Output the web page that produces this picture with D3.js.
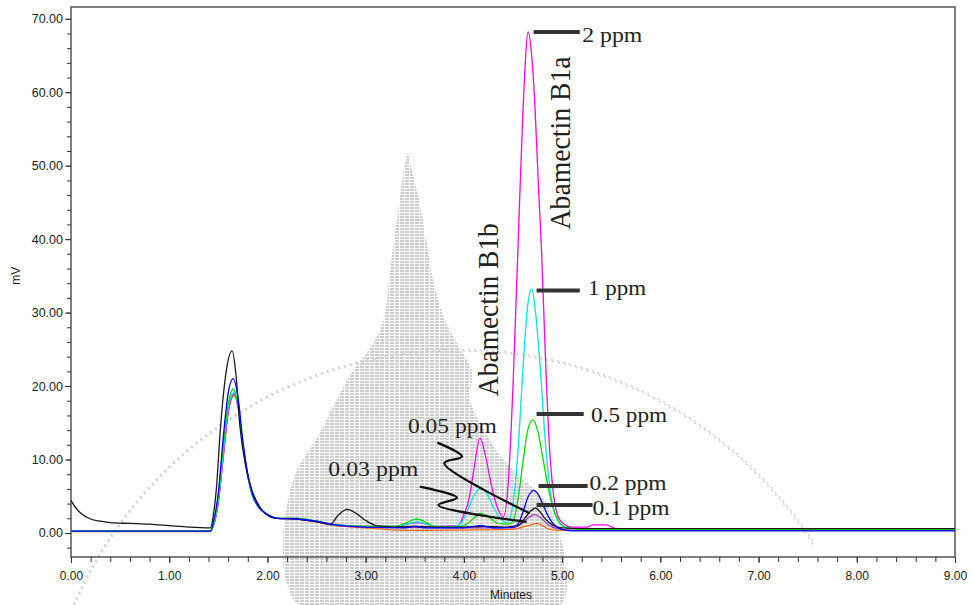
<!DOCTYPE html>
<html>
<head>
<meta charset="utf-8">
<script src="https://cdn.jsdelivr.net/npm/d3@7"></script>
<style>
  body { margin: 0; background: #fff; }
  svg { display: block; }
</style>
</head>
<body>
<div id="chart"></div>
<script>
// retention time (min) / detector response (mV)
const traceBlack = [[0,4.4],[0.05,3.4],[0.1,2.7],[0.2,1.9],[0.3,1.6],[0.4,1.4],[0.6,1.3],[0.8,1.2],[1.0,1.0],[1.2,0.8],[1.42,0.7],[1.45,2.5],[1.48,6],[1.52,14],[1.58,22],[1.64,24.8],[1.68,21.5],[1.72,14.5],[1.78,9],[1.84,5.9],[1.92,3.6],[2.03,2.2],[2.1,2.0],[2.3,1.9],[2.5,1.5],[2.64,1.2],[2.72,2.4],[2.81,3.2],[2.9,2.7],[3.0,1.7],[3.11,1.0],[3.3,0.8],[3.5,0.9],[3.7,0.8],[4.0,0.8],[4.2,0.9],[4.4,0.8],[4.55,1.0],[4.62,2.0],[4.68,3.0],[4.73,3.4],[4.78,2.8],[4.83,1.9],[4.9,1.1],[5.0,0.7],[5.2,0.6],[9,0.6]]
const traceBlue = [[0,0.25],[1.42,0.25],[1.45,1.5],[1.5,5.5],[1.55,13],[1.6,19],[1.65,21],[1.7,18.5],[1.75,12.5],[1.8,8],[1.85,5.2],[1.9,3.8],[2.0,2.5],[2.1,2.0],[2.3,1.9],[2.5,1.6],[2.7,1.1],[3.0,0.8],[3.4,0.7],[3.5,0.9],[3.6,0.7],[4.0,0.7],[4.17,1.0],[4.3,0.7],[4.5,0.8],[4.55,1.2],[4.6,2.8],[4.65,4.8],[4.71,5.8],[4.75,5.4],[4.8,4.0],[4.85,2.5],[4.9,1.4],[4.95,0.8],[5.0,0.5],[5.1,0.3],[9,0.3]]
const traceGreen = [[0,0.25],[1.42,0.25],[1.45,1.3],[1.5,5],[1.55,12],[1.6,17.5],[1.65,19.6],[1.7,17.5],[1.75,12],[1.8,7.8],[1.85,5.1],[1.9,3.8],[2.0,2.5],[2.1,2.0],[2.3,2.0],[2.5,1.6],[2.7,1.1],[3.0,0.9],[3.3,0.9],[3.4,1.3],[3.52,1.9],[3.62,1.4],[3.7,0.9],[3.9,0.8],[4.0,1.0],[4.1,2.0],[4.17,2.7],[4.25,2.2],[4.35,1.3],[4.45,1.2],[4.5,1.6],[4.55,4.5],[4.6,9.5],[4.65,14],[4.7,15.4],[4.75,14],[4.8,10.5],[4.85,6.8],[4.9,3.8],[4.95,2.0],[5.0,1.0],[5.05,0.7],[5.2,0.5],[9,0.5]]
const traceCyan = [[0,0.25],[1.42,0.25],[1.45,1.0],[1.5,4.5],[1.55,11],[1.6,17],[1.66,19.1],[1.7,17.5],[1.75,12],[1.8,7.8],[1.85,5],[1.9,3.7],[2.0,2.5],[2.1,2.0],[2.3,2.0],[2.5,1.6],[2.7,1.1],[3.0,0.9],[3.3,0.9],[3.42,1.2],[3.52,1.5],[3.62,1.2],[3.7,0.9],[3.9,0.9],[3.98,1.5],[4.05,3.5],[4.12,5.5],[4.18,6.1],[4.24,5.2],[4.3,3.5],[4.37,2.0],[4.44,1.4],[4.5,4],[4.55,11],[4.6,22],[4.65,31],[4.69,33.2],[4.73,30],[4.78,22],[4.82,14],[4.86,8],[4.9,4],[4.95,1.8],[5.0,1.0],[5.1,0.6],[5.3,0.5],[9,0.5]]
const traceMagenta = [[0,0.25],[1.42,0.25],[1.45,1.0],[1.5,4.3],[1.55,10.5],[1.6,16.5],[1.66,19.0],[1.7,17.5],[1.75,12],[1.8,7.8],[1.85,5],[1.9,3.7],[2.0,2.5],[2.1,2.0],[2.3,2.0],[2.5,1.6],[2.7,1.1],[3.0,0.9],[3.3,0.9],[3.42,1.2],[3.52,1.4],[3.62,1.2],[3.7,0.9],[3.94,1.0],[4.0,2.5],[4.05,4.5],[4.1,8.5],[4.165,12.9],[4.22,10.5],[4.28,6.5],[4.34,3.5],[4.4,2.2],[4.45,6.5],[4.5,20],[4.55,38.6],[4.6,57],[4.655,68.2],[4.69,65],[4.72,59],[4.76,47],[4.79,38.6],[4.83,24],[4.87,12],[4.91,5.5],[4.96,2.2],[5.02,1.2],[5.1,0.8],[5.25,0.8],[5.32,1.1],[5.45,1.1],[5.55,0.6],[9,0.6]]
const tracePurple = [[0,0.25],[1.42,0.25],[1.45,1.0],[1.5,4.3],[1.55,10.5],[1.6,16.5],[1.66,18.8],[1.7,17.3],[1.75,12],[1.8,7.8],[1.85,5],[1.9,3.7],[2.0,2.5],[2.1,2.0],[2.3,1.9],[2.5,1.5],[2.7,1.0],[3.0,0.8],[4.0,0.7],[4.5,0.7],[4.58,1.2],[4.65,2.0],[4.72,2.5],[4.78,2.1],[4.85,1.2],[4.95,0.6],[5.1,0.4],[9,0.4]]
const traceOrange = [[0,0.2],[1.42,0.2],[1.45,1.0],[1.5,4.2],[1.55,10.3],[1.6,16.3],[1.66,18.7],[1.7,17.2],[1.75,12],[1.8,7.8],[1.85,5],[1.9,3.7],[2.0,2.5],[2.1,2.0],[2.3,1.9],[2.5,1.5],[2.7,1.0],[3.0,0.7],[3.3,0.4],[3.6,0.35],[4.0,0.4],[4.5,0.5],[4.6,0.8],[4.68,1.1],[4.74,1.3],[4.8,1.0],[4.87,0.5],[5.0,0.35],[9,0.35]]

const traces = [
  { values: traceOrange, color: "#ff6a10" },
  { values: tracePurple, color: "#a03cb4" },
  { values: traceMagenta, color: "#ff00ff" },
  { values: traceCyan, color: "#00e5e5" },
  { values: traceGreen, color: "#00dd00" },
  { values: traceBlack, color: "#1a1a1a" },
  { values: traceBlue, color: "#0000ff" },
]

const xTicks = [0, 1, 2, 3, 4, 5, 6, 7, 8, 9]
const yTicks = [0, 10, 20, 30, 40, 50, 60, 70]

// concentration markers on the B1a peak and the small-peak callouts
const ppmLabels = ["2 ppm", "1 ppm", "0.5 ppm", "0.2 ppm", "0.1 ppm"]
const ppmLevels = [68.2, 33.0, 16.2, 6.4, 3.8]
const calloutLabels = ["0.05 ppm", "0.03 ppm"]
const peakNames = ["Abamectin B1a", "Abamectin B1b"]

const width = 972
const height = 605
const margin = { top: 7, right: 17, bottom: 48, left: 71 }

const svg = d3.select("#chart").append("svg")
  .attr("width", width)
  .attr("height", height)

const x = d3.scaleLinear().domain([0, 9]).range([margin.left, width - margin.right])
const y = d3.scaleLinear().domain([-3.27, 71.6]).range([height - margin.bottom, margin.top])

// grey background watermark (scanned image artefact)
const defs = svg.append("defs")
const pat = defs.append("pattern")
  .attr("id", "grain")
  .attr("width", 5).attr("height", 3)
  .attr("patternUnits", "userSpaceOnUse")
pat.append("rect").attr("width", 4).attr("height", 2).attr("fill", "#cdcdcd")

const wm = svg.append("g").attr("class", "watermark")
wm.append("path")
  .attr("d", d3.line().curve(d3.curveCatmullRom)([
    [408,152],[413,175],[420,205],[426,240],[433,280],[444,318],[458,345],[472,372],[470,400],
    [484,430],[502,458],[524,480],[546,502],[558,530],[565,560],[560,605],[300,605],[286,580],
    [283,540],[288,500],[298,468],[316,440],[334,405],[352,372],[372,345],[384,318],[389,280],
    [394,240],[399,205],[403,175],[408,152]
  ]))
  .attr("fill", "url(#grain)")
wm.append("path")
  .attr("d", d3.arc()({ innerRadius: 419, outerRadius: 420.5, startAngle: -1.18, endAngle: 1.0 }))
  .attr("transform", "translate(460,770)")
  .attr("fill", "none")
  .attr("stroke", "#d2d2d2")
  .attr("stroke-width", 1.5)
  .attr("stroke-dasharray", "2,4")

// frame
svg.append("rect")
  .attr("x", x(0)).attr("y", margin.top)
  .attr("width", x(9) - x(0)).attr("height", y(-3.27) - margin.top)
  .attr("fill", "none")
  .attr("stroke", "#555")
  .attr("stroke-width", 1.5)

// axes
svg.append("g")
  .attr("transform", `translate(0,${y(-3.27)})`)
  .call(d3.axisBottom(x).tickValues(d3.range(0, 9.01, 0.2)).tickSize(5).tickFormat(""))
  .call(g => g.select(".domain").remove())
svg.append("g")
  .attr("transform", `translate(0,${y(-3.27)})`)
  .call(d3.axisBottom(x).tickValues(xTicks).tickSize(6).tickPadding(8).tickFormat(d3.format(".2f")))
  .call(g => g.select(".domain").remove())
  .call(g => g.selectAll("text").attr("font-size", 12).attr("font-family", "Liberation Sans, Arial").attr("fill", "#222"))

svg.append("g")
  .attr("transform", `translate(${x(0)},0)`)
  .call(d3.axisLeft(y).tickValues(d3.range(-2, 71, 2)).tickSize(4).tickFormat(""))
  .call(g => g.select(".domain").remove())
svg.append("g")
  .attr("transform", `translate(${x(0)},0)`)
  .call(d3.axisLeft(y).tickValues(yTicks).tickSize(6).tickPadding(2).tickFormat(d3.format(".2f")))
  .call(g => g.select(".domain").remove())
  .call(g => g.selectAll("text").attr("font-size", 12.5).attr("font-family", "Liberation Sans, Arial").attr("fill", "#222"))

svg.selectAll(".tick line").attr("stroke", "#333")

svg.append("text")
  .attr("x", (x(0) + x(9)) / 2 - 2)
  .attr("y", 599)
  .attr("text-anchor", "middle")
  .attr("font-family", "Liberation Sans, Arial")
  .attr("font-size", 12)
  .attr("fill", "#222")
  .text("Minutes")

svg.append("text")
  .attr("transform", `translate(20,${y(35)}) rotate(-90)`)
  .attr("text-anchor", "middle")
  .attr("font-family", "Liberation Sans, Arial")
  .attr("font-size", 12)
  .attr("fill", "#222")
  .text("mV")

// traces
const line = d3.line()
  .x(d => x(d[0]))
  .y(d => y(d[1]))
  .curve(d3.curveMonotoneX)

svg.append("g")
  .selectAll("path")
  .data(traces)
  .join("path")
  .attr("d", d => line(d.values))
  .attr("fill", "none")
  .attr("stroke", d => d.color)
  .attr("stroke-width", 1.3)
  .attr("stroke-linejoin", "round")

// annotations
const serif = "Liberation Serif, Times New Roman, serif"
const markerStart = [4.71, 4.74, 4.74, 4.76, 4.74]
const markerEnd = [5.18, 5.18, 5.22, 5.26, 5.31]
const textStart = [5.205, 5.265, 5.295, 5.28, 5.31]
const textLen = [60, 58, 76, 77, 77]
const textDrop = [10, 4, 8, 4, 10]

const ann = svg.append("g")
ppmLabels.forEach((label, i) => {
  ann.append("line")
    .attr("x1", x(markerStart[i])).attr("x2", x(markerEnd[i]))
    .attr("y1", y(ppmLevels[i])).attr("y2", y(ppmLevels[i]))
    .attr("stroke", "#333")
    .attr("stroke-width", 4)
  ann.append("text")
    .attr("x", x(textStart[i]))
    .attr("y", y(ppmLevels[i]) + textDrop[i])
    .attr("font-family", serif)
    .attr("font-size", 20)
    .attr("textLength", textLen[i])
    .attr("lengthAdjust", "spacingAndGlyphs")
    .attr("fill", "#222")
    .text(label)
})

// callouts pointing at the smallest peaks
const calloutPos = [[3.43, 13.6], [2.62, 7.8]]
const calloutLen = [89, 90]
const calloutPaths = [
  [[3.73, 12.3], [3.98, 10.4], [3.8, 9.5], [4.67, 2.7]],
  [[3.55, 6.3], [3.93, 4.8], [3.74, 3.8], [4.64, 1.5]],
]
calloutLabels.forEach((label, i) => {
  ann.append("text")
    .attr("x", x(calloutPos[i][0]))
    .attr("y", y(calloutPos[i][1]))
    .attr("font-family", serif)
    .attr("font-size", 20)
    .attr("textLength", calloutLen[i])
    .attr("lengthAdjust", "spacingAndGlyphs")
    .attr("fill", "#222")
    .text(label)
  ann.append("path")
    .attr("d", d3.line().x(d => x(d[0])).y(d => y(d[1])).curve(d3.curveCatmullRom.alpha(0.5))(calloutPaths[i]))
    .attr("fill", "none")
    .attr("stroke", "#111")
    .attr("stroke-width", 2.2)
})

// rotated compound names
const namePos = [[5.08, 53.1], [4.35, 30.4]]
peakNames.forEach((name, i) => {
  ann.append("text")
    .attr("transform", `translate(${x(namePos[i][0])},${y(namePos[i][1])}) rotate(-90)`)
    .attr("text-anchor", "middle")
    .attr("font-family", serif)
    .attr("font-size", 30)
    .attr("textLength", 173)
    .attr("lengthAdjust", "spacingAndGlyphs")
    .attr("fill", "#222")
    .text(name)
})
</script>
</body>
</html>
